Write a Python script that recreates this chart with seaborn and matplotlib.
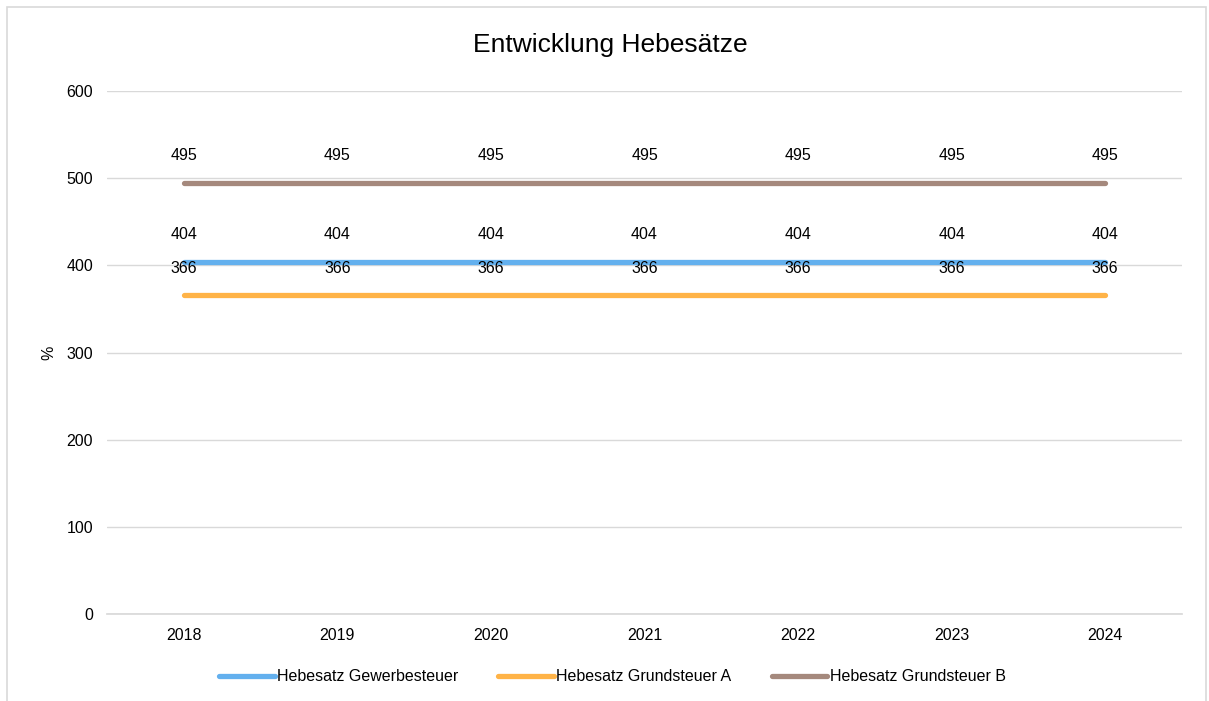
import pandas as pd
import matplotlib.pyplot as plt
import seaborn as sns
from matplotlib.patches import Rectangle

# Werte aus dem Diagramm
jahre = ['2018', '2019', '2020', '2021', '2022', '2023', '2024']
gewerbesteuer = [404, 404, 404, 404, 404, 404, 404]
grundsteuer_a = [366, 366, 366, 366, 366, 366, 366]
grundsteuer_b = [495, 495, 495, 495, 495, 495, 495]

serien = ['Hebesatz Gewerbesteuer', 'Hebesatz Grundsteuer A', 'Hebesatz Grundsteuer B']
farben = ['#63B0EE', '#FFB347', '#A5897D']

df = pd.DataFrame({
    'Jahr': jahre * 3,
    'Wert': gewerbesteuer + grundsteuer_a + grundsteuer_b,
    'Serie': [serien[0]] * 7 + [serien[1]] * 7 + [serien[2]] * 7,
})

sns.set_theme(style='white')
plt.rcParams['font.family'] = ['Liberation Sans', 'DejaVu Sans']
plt.rcParams['text.color'] = '#000000'

fig = plt.figure(figsize=(12.09, 7.01), dpi=100)
ax = fig.add_axes([0.0885, 0.1241, 0.8892, 0.7459])

sns.lineplot(data=df, x='Jahr', y='Wert', hue='Serie', palette=farben,
             linewidth=3.8, ax=ax, sort=False, legend=True)
for line in ax.get_lines():
    line.set_solid_capstyle('round')

# Datenbeschriftungen
for werte in [gewerbesteuer, grundsteuer_a, grundsteuer_b]:
    for i, v in enumerate(werte):
        ax.annotate(str(v), (i, v), xytext=(0, 14), textcoords='offset points',
                    ha='center', va='bottom', fontsize=11.5, color='#000000')

ax.set_ylim(0, 600)
ax.set_yticks([0, 100, 200, 300, 400, 500, 600])
ax.set_xlim(-0.5, 6.5)
ax.yaxis.grid(True, color='#D9D9D9', linewidth=1)
ax.set_axisbelow(True)
for s in ['top', 'right', 'left']:
    ax.spines[s].set_visible(False)
ax.spines['bottom'].set_color('#D9D9D9')
ax.tick_params(axis='both', length=0, labelsize=11.5, colors='#000000')
ax.tick_params(axis='y', pad=10)
ax.tick_params(axis='x', pad=10)
ax.set_xlabel('')
ax.set_ylabel('%', fontsize=11.5, labelpad=7, color='#000000')

fig.text(0.505, 0.936, 'Entwicklung Hebesätze', ha='center', va='center',
         fontsize=19, color='#000000')

leg = ax.legend(loc='center', bbox_to_anchor=(0.47, -0.12), ncol=3, frameon=False,
                fontsize=11.5, handlelength=3.5, handletextpad=0.15, columnspacing=2.5)
for h in leg.get_lines():
    h.set_linewidth(3.8)
    h.set_solid_capstyle('round')

fig.patches.append(Rectangle((7 / 1209, -0.02), 1199 / 1209, 1.02 - 7 / 701,
                             transform=fig.transFigure, fill=False,
                             edgecolor='#D9D9D9', linewidth=1.2))

fig.savefig('out.png', dpi=100, facecolor='white')
